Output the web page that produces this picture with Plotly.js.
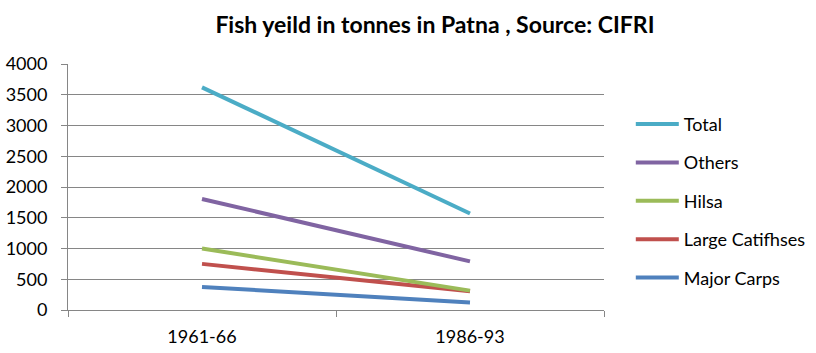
<!DOCTYPE html>
<html>
<head>
<meta charset="utf-8">
<script src="https://cdn.plot.ly/plotly-3.0.1.min.js"></script>
<style>html,body{margin:0;padding:0;background:#fff;}#chart{width:816px;height:353px;}</style>
</head>
<body>
<div id="chart"></div>
<script>
var periods = ["1961-66", "1986-93"];
var seriesNames = ["Total", "Others", "Hilsa", "Large Catifhses", "Major Carps"];
var total = [3620, 1570];
var others = [1805, 790];
var hilsa = [1000, 315];
var largeCatfishes = [750, 305];
var majorCarps = [375, 120];
var tickVals = [0, 500, 1000, 1500, 2000, 2500, 3000, 3500, 4000];

var colors = ["#4BACC6", "#8064A2", "#9BBB59", "#C0504D", "#4F81BD"];
var values = [total, others, hilsa, largeCatfishes, majorCarps];

var traces = [];
for (var i = values.length - 1; i >= 0; i--) {
  traces.push({
    type: "scatter", mode: "lines",
    x: periods, y: values[i], name: seriesNames[i],
    legendgroup: "g" + i, legendrank: i + 1,
    line: {color: colors[i], width: 4},
    hoverinfo: "skip"
  });
}

var font = "Lato, 'Open Sans', sans-serif";
var layout = {
  width: 816, height: 353,
  margin: {l: 68, r: 212, t: 64, b: 43, autoexpand: false},
  paper_bgcolor: "#fff", plot_bgcolor: "#fff",
  font: {family: font, size: 18, color: "#000"},
  title: {text: "<b>Fish yeild in tonnes in Patna , Source: CIFRI</b>",
          font: {family: font, size: 23, color: "#000"},
          x: 0.533, xref: "container", xanchor: "center",
          y: 0.93, yref: "container", yanchor: "middle"},
  showlegend: true,
  legend: {x: 1.05, xref: "paper", xanchor: "left", y: 0.83, yanchor: "top",
           font: {family: font, size: 18, color: "#000"},
           itemwidth: 43, tracegroupgap: 12, traceorder: "grouped",
           bgcolor: "rgba(0,0,0,0)"},
  xaxis: {type: "category", range: [-0.5, 1.5], showgrid: false,
          showline: true, linecolor: "#868686", linewidth: 1,
          ticks: "outside", tickson: "boundaries", ticklen: 6, tickcolor: "#868686",
          ticklabelstandoff: 10, automargin: false,
          tickfont: {family: font, size: 18}, zeroline: false, fixedrange: true},
  yaxis: {range: [0, 4000], tickvals: tickVals, showgrid: true, gridcolor: "#868686", gridwidth: 1,
          showline: true, linecolor: "#868686", linewidth: 1,
          ticks: "outside", ticklen: 6, tickcolor: "#868686",
          ticklabelstandoff: 10, automargin: false,
          tickfont: {family: font, size: 18}, zeroline: false, fixedrange: true}
};
Plotly.newPlot("chart", traces, layout, {displayModeBar: false, staticPlot: true});
</script>
</body>
</html>
